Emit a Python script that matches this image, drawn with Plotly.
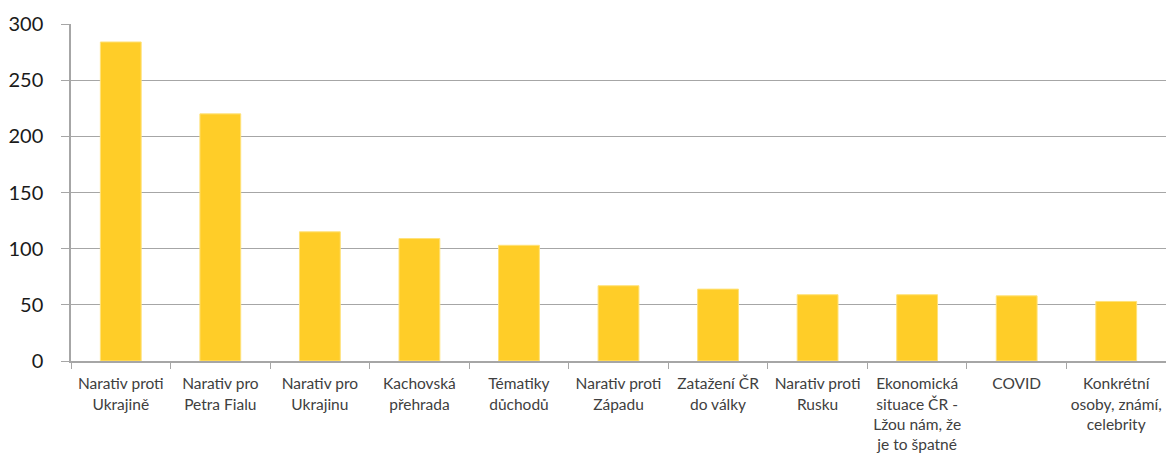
import plotly.graph_objects as go

categories = [
    "Narativ proti<br>Ukrajině",
    "Narativ pro<br>Petra Fialu",
    "Narativ pro<br>Ukrajinu",
    "Kachovská<br>přehrada",
    "Tématiky<br>důchodů",
    "Narativ proti<br>Západu",
    "Zatažení ČR<br>do války",
    "Narativ proti<br>Rusku",
    "Ekonomická<br>situace ČR -<br>Lžou nám, že<br>je to špatné",
    "COVID",
    "Konkrétní<br>osoby, známí,<br>celebrity",
]
values = [284, 220, 115, 109, 103, 67, 64, 59, 59, 58, 53]
y_ticks = [0, 50, 100, 150, 200, 250, 300]

fig = go.Figure(
    go.Bar(
        x=categories,
        y=values,
        marker=dict(color="#FFCD28", line=dict(color="#FFE27A", width=1)),
    )
)

fig.update_layout(
    width=1166,
    height=456,
    margin=dict(l=71, r=0, t=24, b=95, autoexpand=False),
    paper_bgcolor="white",
    plot_bgcolor="white",
    bargap=0.59,
    showlegend=False,
    font=dict(family="Lato, 'Open Sans', sans-serif", color="#404040"),
)

fig.update_xaxes(
    automargin=False,
    showline=True,
    linecolor="#A6A6A6",
    linewidth=1.5,
    ticks="outside",
    tickson="boundaries",
    ticklen=6,
    tickcolor="#A6A6A6",
    tickfont=dict(size=15.5, color="#404040"),
    tickangle=0,
    showgrid=False,
    ticklabelstandoff=8,
)

fig.update_yaxes(
    automargin=False,
    range=[0, 300],
    tickvals=y_ticks,
    showline=True,
    linecolor="#A6A6A6",
    linewidth=1.5,
    ticks="outside",
    ticklen=8,
    tickcolor="#A6A6A6",
    showgrid=True,
    gridcolor="#A6A6A6",
    gridwidth=1.2,
    zeroline=False,
    tickfont=dict(size=20, color="#1a1a1a"),
    ticklabelstandoff=14,
)

fig.write_html(
    "out.html",
    config={"displayModeBar": False},
    post_script="document.body.style.margin='0';document.body.style.overflow='hidden';",
)
